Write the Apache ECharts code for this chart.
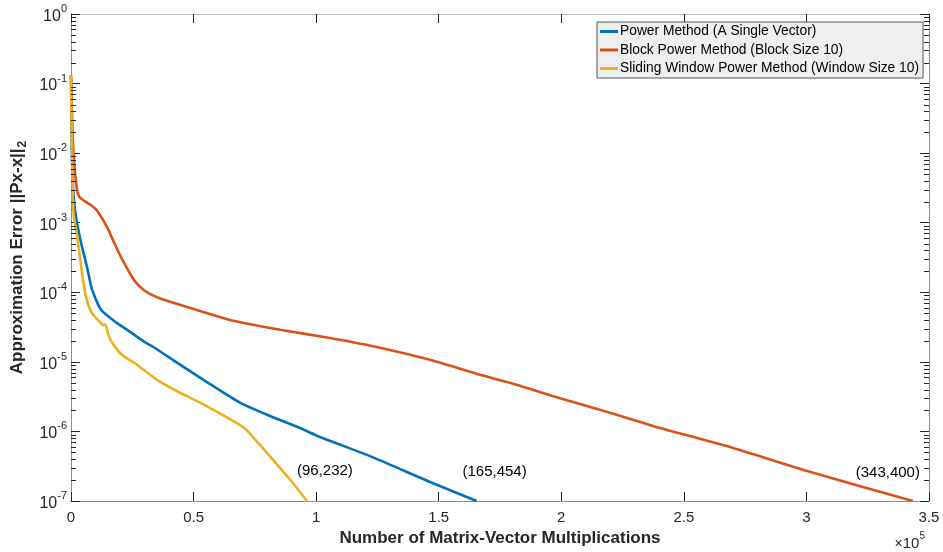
<!DOCTYPE html>
<html>
<head>
<meta charset="utf-8">
<script src="https://cdn.jsdelivr.net/npm/echarts@6/dist/echarts.min.js"></script>
<style>
  html, body { margin: 0; padding: 0; background: #fff; }
  #chart { width: 943px; height: 552px; }
</style>
</head>
<body>
<div id="chart"></div>
<script>
// Convergence of three power-iteration variants: error vs. matrix-vector products.
const powerX = [0, 400, 1200, 2450, 4490, 6530, 8570, 12240, 18770, 22850, 29780, 33460, 44470, 56710, 68950, 79970, 93430, 101590, 120770, 147700, 165454];
const powerY = [0.13, 8e-3, 2.1e-3, 1.0e-3, 4.5e-4, 2.3e-4, 1.1e-4, 5.6e-5, 3.6e-5, 2.9e-5, 1.95e-5, 1.65e-5, 9.1e-6, 4.8e-6, 2.6e-6, 1.74e-6, 1.12e-6, 8.3e-7, 4.6e-7, 1.8e-7, 1e-7];

const blockX = [0, 600, 1200, 2450, 3670, 8980, 10610, 14690, 17140, 20400, 25700, 29780, 35090, 44470, 64870, 85270, 105670, 126070, 146470, 166870, 179110, 199510, 219910, 240310, 270090, 300290, 343400];
const blockY = [0.13, 2.2e-2, 8e-3, 3.0e-3, 2.3e-3, 1.7e-3, 1.5e-3, 8.7e-4, 5.6e-4, 3.2e-4, 1.5e-4, 1.07e-4, 8.5e-5, 6.6e-5, 4.0e-5, 2.9e-5, 2.2e-5, 1.6e-5, 1.07e-5, 6.5e-6, 5.0e-6, 3.0e-6, 1.86e-6, 1.12e-6, 5.8e-7, 2.7e-7, 1e-7];

const slidingX = [0, 400, 800, 1200, 2450, 3260, 4490, 6120, 8570, 12240, 13000, 14000, 15500, 18770, 21620, 26930, 35090, 44470, 52630, 64870, 70990, 74250, 82410, 90570, 96232];
const slidingY = [0.13, 1.1e-2, 2.1e-3, 1.2e-3, 6.6e-4, 4.1e-4, 1.9e-4, 8.6e-5, 5.0e-5, 3.6e-5, 3.35e-5, 3.45e-5, 2.3e-5, 1.5e-5, 1.2e-5, 9.1e-6, 5.5e-6, 3.6e-6, 2.6e-6, 1.5e-6, 1.1e-6, 8.3e-7, 3.9e-7, 1.8e-7, 1e-7];

const seriesNames = [
  'Power Method (A Single Vector)',
  'Block Power Method (Block Size 10)',
  'Sliding Window Power Method (Window Size 10)'
];
const seriesColors = ['#0072BD', '#D95319', '#EDB120'];

// Log-axis minor ticks at 2..9 x 10^n
const minorTicks = [];
for (let n = -7; n < 0; n++) {
  for (let k = 2; k <= 9; k++) minorTicks.push(k * Math.pow(10, n));
}

const FONT = 'Arial, "Liberation Sans", sans-serif';
const INK = '#262626';

function zip(xs, ys) { return xs.map((x, i) => [x, ys[i]]); }

// Endpoint annotation "(thousands,units)" at each curve's final point
function endNote(xs, ys, dx, dy) {
  const i = xs.length - 1;
  return {
    symbol: 'circle',
    symbolSize: 0,
    silent: true,
    label: {
      show: true,
      position: 'inside',
      offset: [dx, dy],
      color: '#000',
      fontFamily: FONT,
      fontSize: 15,
      formatter: '(' + xs[i].toLocaleString('en-US') + ')'
    },
    data: [{ coord: [xs[i], ys[i]] }]
  };
}

function lineSeries(name, color, xs, ys, note) {
  return {
    name: name,
    type: 'line',
    data: zip(xs, ys),
    showSymbol: false,
    smooth: 0.2,
    lineStyle: { color: color, width: 2.6 },
    itemStyle: { color: color },
    markPoint: note,
    animation: false
  };
}

const chart = echarts.init(document.getElementById('chart'), null, { renderer: 'canvas' });

const option = {
  animation: false,
  backgroundColor: '#ffffff',
  grid: { left: 71, right: 14, top: 14, bottom: 51, containLabel: false, outerBoundsMode: 'none' },
  legend: {
    data: seriesNames,
    orient: 'vertical',
    left: 597,
    top: 22,
    padding: [2, 4, 2, 3],
    itemGap: 3.5,
    itemWidth: 18,
    itemHeight: 3,
    icon: 'rect',
    backgroundColor: '#efefef',
    borderColor: '#555555',
    borderWidth: 1,
    borderRadius: 0,
    textStyle: { fontFamily: FONT, fontSize: 13.8, color: '#000', padding: [0, 0, 0, -3], lineHeight: 15 }
  },
  xAxis: [
    {
      type: 'value',
      min: 0, max: 350000, interval: 50000,
      position: 'bottom',
      name: 'Number of Matrix-Vector Multiplications',
      nameLocation: 'middle',
      nameGap: 29,
      nameTextStyle: { fontFamily: FONT, fontSize: 17, fontWeight: 'bold', color: INK },
      axisLine: { show: true, onZero: false, lineStyle: { color: '#8c8c8c', width: 1 } },
      axisTick: { show: true, inside: true, length: 9, lineStyle: { color: INK, width: 1 } },
      axisLabel: {
        fontFamily: FONT, fontSize: 15, color: INK, margin: 9,
        formatter: v => String(v / 1e5)
      },
      splitLine: { show: false }
    },
    {
      type: 'value',
      min: 0, max: 350000, interval: 50000,
      position: 'top',
      axisLine: { show: true, onZero: false, lineStyle: { color: '#bdbdbd', width: 1 } },
      axisTick: { show: true, inside: true, length: 9, lineStyle: { color: INK, width: 1 } },
      axisLabel: { show: false },
      splitLine: { show: false }
    }
  ],
  yAxis: [
    {
      type: 'log',
      logBase: 10,
      min: 1e-7, max: 1,
      position: 'left',
      name: '{t|Approximation Error ||Px-x||}{sub|2}',
      nameLocation: 'middle',
      nameGap: 38,
      nameRotate: 90,
      nameTextStyle: {
        rich: {
          t: { fontFamily: FONT, fontSize: 17, fontWeight: 'bold', color: INK, lineHeight: 22, verticalAlign: 'middle' },
          sub: { fontFamily: FONT, fontSize: 12, fontWeight: 'bold', color: INK, verticalAlign: 'bottom', lineHeight: 13, padding: [0, 0, 0, 1] }
        }
      },
      axisLine: { show: true, onZero: false, lineStyle: { color: '#8c8c8c', width: 1 } },
      axisTick: { show: true, inside: true, length: 9, lineStyle: { color: INK, width: 1 } },
      axisLabel: {
        margin: 4,
        formatter: v => '{b|10}{s|' + Math.round(Math.log10(v)) + '}',
        rich: {
          b: { fontFamily: FONT, fontSize: 16, color: INK, lineHeight: 21, verticalAlign: 'bottom' },
          s: { fontFamily: FONT, fontSize: 11, color: INK, lineHeight: 21, verticalAlign: 'top' }
        }
      },
      splitLine: { show: false }
    },
    {
      type: 'log',
      logBase: 10,
      min: 1e-7, max: 1,
      position: 'right',
      axisLine: { show: true, onZero: false, lineStyle: { color: '#8c8c8c', width: 1 } },
      axisTick: { show: true, inside: true, length: 9, lineStyle: { color: INK, width: 1 } },
      axisLabel: { show: false },
      splitLine: { show: false }
    }
  ],
  series: [
    {
      name: 'minor-ticks',
      type: 'custom',
      silent: true,
      clip: false,
      z: 5,
      xAxisIndex: 0,
      yAxisIndex: 0,
      data: minorTicks.map(v => [0, v]),
      encode: { x: 0, y: 1 },
      renderItem: function (params, api) {
        const left = api.coord([0, api.value(1)]);
        const right = api.coord([350000, api.value(1)]);
        const y = Math.round(left[1]) + 0.5;
        const st = { stroke: INK, lineWidth: 1 };
        return {
          type: 'group',
          children: [
            { type: 'line', shape: { x1: left[0], y1: y, x2: left[0] + 5, y2: y }, style: st },
            { type: 'line', shape: { x1: right[0] - 5, y1: y, x2: right[0], y2: y }, style: st }
          ]
        };
      }
    },
    lineSeries(seriesNames[0], seriesColors[0], powerX, powerY, endNote(powerX, powerY, 18, -29)),
    lineSeries(seriesNames[1], seriesColors[1], blockX, blockY, endNote(blockX, blockY, -25, -28)),
    lineSeries(seriesNames[2], seriesColors[2], slidingX, slidingY, endNote(slidingX, slidingY, 18, -30))
  ],
  graphic: [
    {
      type: 'text',
      right: 18,
      top: 531,
      style: {
        text: '{m|\u00d7}{b|10}{s|5}',
        rich: {
          m: { fontFamily: FONT, fontSize: 14, fill: INK, lineHeight: 20, verticalAlign: 'bottom' },
          b: { fontFamily: FONT, fontSize: 15, fill: INK, lineHeight: 20, verticalAlign: 'bottom' },
          s: { fontFamily: FONT, fontSize: 10, fill: INK, lineHeight: 20, verticalAlign: 'top' }
        }
      }
    }
  ]
};

chart.setOption(option);
</script>
</body>
</html>
